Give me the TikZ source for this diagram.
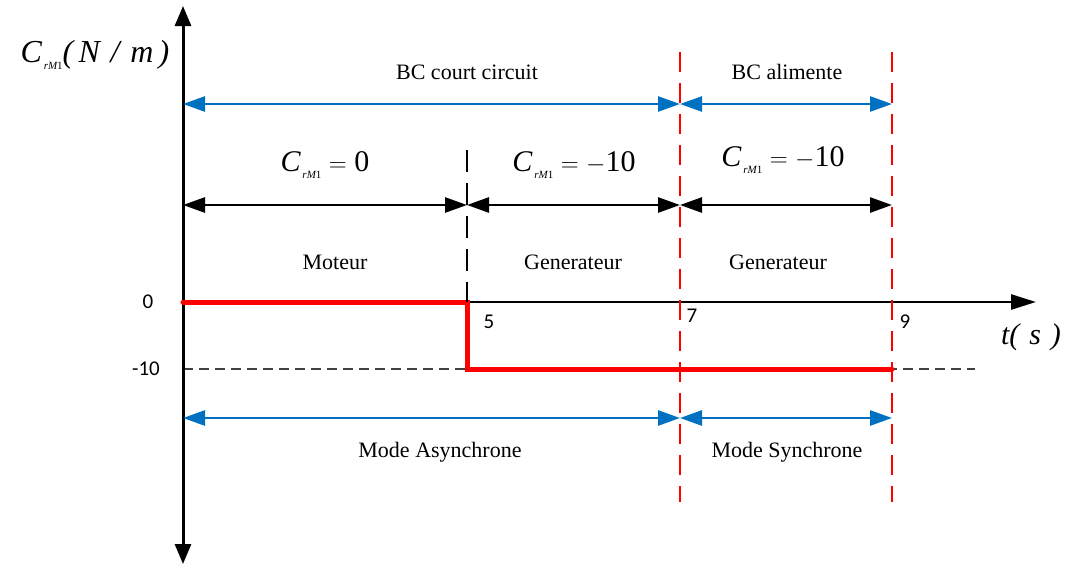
\documentclass[tikz,border=0pt]{standalone}
\usepackage{fontspec}
\setmainfont{Liberation Serif}
\newfontfamily\tickfont{Carlito}
\usetikzlibrary{arrows.meta}
\definecolor{myblue}{HTML}{0070C0}
\definecolor{myred}{HTML}{FF0000}
\newcommand{\Crm}{{\itshape C}\raisebox{-0.5ex}{\fontsize{11}{11}\selectfont\,\itshape rM\upshape 1}}
\tikzset{
  axisline/.style={line width=3pt, -{Triangle[length=20pt,width=16pt]}},
  bluearr/.style={myblue, line width=2.6pt, {Triangle[length=22pt,width=15pt]}-{Triangle[length=22pt,width=15pt]}},
  blackarr/.style={black, line width=2.6pt, {Triangle[length=22pt,width=15pt]}-{Triangle[length=22pt,width=15pt]}},
  reddash/.style={myred, line width=2.5pt, dash pattern=on 20pt off 11pt},
  lbl/.style={font=\fontsize{22}{26}\selectfont, inner sep=0pt},
  mathlbl/.style={font=\fontsize{30}{34}\selectfont, inner sep=0pt},
  tick/.style={font=\tickfont\fontsize{21}{24}\selectfont, inner sep=0pt},
}
\begin{document}
\begin{tikzpicture}[x=1pt,y=-1pt]
\useasboundingbox (0,0) rectangle (1065,565);
% coordinates
\coordinate (O) at (183,302);
\coordinate (ytop) at (183,6);
\coordinate (ybot) at (183,564);
\coordinate (xend) at (1036,302);
\coordinate (t5) at (467,302);
\coordinate (t7) at (680,302);
\coordinate (t9) at (892,302);
% dashed reference at -10
\draw[black!75, line width=1.2pt, dash pattern=on 10pt off 6pt] (183,369) -- (975,369);
% axes
\draw[axisline] (183,302) -- (ytop);
\draw[axisline] (183,302) -- (ybot);
\draw[black, line width=2.6pt, -{Triangle[length=25pt,width=15pt]}] (O) -- (xend);
% red signal
\draw[myred, line width=5pt, line cap=round, line join=miter] (O) -- (467,302) -- (467,369) -- (892,369);
% black dashed at 5
\draw[black, line width=2.4pt, dash pattern=on 22pt off 11pt] (467,150) -- (t5);
% red dashed at 7 and 9
\draw[reddash] (680,52) -- (680,502);
\draw[reddash] (892,52) -- (892,502);
% arrows
\coordinate (a0) at (183,104); \coordinate (a7) at (680,104); \coordinate (a9) at (892,104);
\draw[bluearr] (a0) -- (a7);
\draw[bluearr] (a7) -- (a9);
\coordinate (b0) at (183,205); \coordinate (b5) at (467,205); \coordinate (b7) at (680,205); \coordinate (b9) at (892,205);
\draw[blackarr] (b0) -- (b5);
\draw[blackarr] (b5) -- (b7);
\draw[blackarr] (b7) -- (b9);
\coordinate (c0) at (183,418); \coordinate (c7) at (680,418); \coordinate (c9) at (892,418);
\draw[bluearr] (c0) -- (c7);
\draw[bluearr] (c7) -- (c9);
% labels
\node[mathlbl, font=\fontsize{32}{36}\selectfont] (ylab) at (95,55) {\Crm{\itshape(\,N\,\,/\,\,m\,)}};
\node[mathlbl] (xlab) at (1031,337) {{\itshape t(\,\,s\,\,)}};
\node[lbl] (bccc) at (467,72) {BC court circuit};
\node[lbl] (bcal) at (787,72) {BC alimente};
\node[mathlbl] (c0lab) at (325,165) {\Crm\ $=$ 0};
\node[mathlbl] (c1lab) at (574,165) {\Crm\ $=$ $-$10};
\node[mathlbl] (c2lab) at (783,160) {\Crm\ $=$ $-$10};
\node[lbl] (mot) at (335,262) {Moteur};
\node[lbl] (gen1) at (573,262) {Generateur};
\node[lbl] (gen2) at (778,262) {Generateur};
\node[lbl] (masy) at (440,452) {Mode Asynchrone};
\node[lbl] (msyn) at (787,452) {Mode Synchrone};
\node[tick] (l0) at (148,302) {0};
\node[tick] (l10) at (146,369) {-10};
\node[tick] (l5) at (489,322) {5};
\node[tick] (l7) at (692,316) {7};
\node[tick] (l9) at (905,322) {9};
\end{tikzpicture}
\end{document}
